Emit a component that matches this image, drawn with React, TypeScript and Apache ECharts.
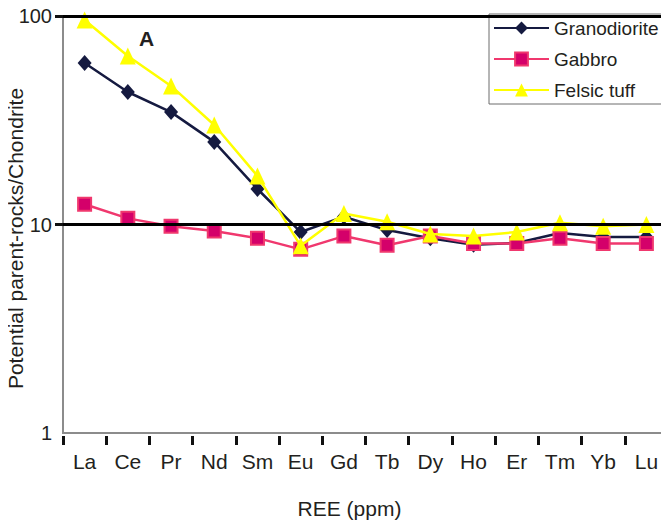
import React, { useEffect, useRef } from "react";
import * as echarts from "echarts";

const categories = ["La", "Ce", "Pr", "Nd", "Sm", "Eu", "Gd", "Tb", "Dy", "Ho", "Er", "Tm", "Yb", "Lu"];
const granodiorite = [59.5, 43.2, 34.6, 24.9, 14.8, 9.2, 10.9, 9.4, 8.6, 8.0, 8.15, 9.1, 8.7, 8.7];
const gabbro = [12.5, 10.7, 9.8, 9.3, 8.6, 7.6, 8.8, 7.95, 8.8, 8.1, 8.1, 8.6, 8.1, 8.1];
const felsicTuff = [95.7, 64.3, 46.2, 30.0, 17.1, 7.9, 11.3, 10.3, 9.0, 8.8, 9.2, 10.2, 9.8, 10.0];
const referenceLines = [10, 100];

const FONT = "Liberation Sans, Arial, sans-serif";

export default function App() {
  const ref = useRef<HTMLDivElement>(null);
  useEffect(() => {
    if (!ref.current) return;
    const chart = echarts.init(ref.current, null, { renderer: "svg" });
    chart.setOption({
      animation: false,
      backgroundColor: "#ffffff",
      textStyle: { fontFamily: FONT, color: "#231f20" },
      grid: {
        left: 63,
        right: 1,
        top: 16,
        bottom: 98,
        show: true,
        outerBoundsMode: "none",
        containLabel: false,
        borderColor: "#8c8c8c",
        borderWidth: 2,
        backgroundColor: "transparent",
      },
      legend: {
        orient: "vertical",
        left: 489,
        top: 14,
        padding: [4, 10, 4, 4],
        itemWidth: 55,
        itemHeight: 16,
        itemGap: 11,
        backgroundColor: "transparent",
        borderColor: "#6d6d6d",
        borderWidth: 1,
        textStyle: { fontFamily: FONT, fontSize: 19, color: "#231f20", lineHeight: 20 },
        data: ["Granodiorite", "Gabbro", "Felsic tuff"],
      },
      xAxis: {
        type: "category",
        data: categories,
        boundaryGap: true,
        offset: 3,
        axisLine: { show: false },
        axisTick: { show: true, length: 9, lineStyle: { color: "#111", width: 3 } },
        axisLabel: { fontFamily: FONT, fontSize: 21, color: "#231f20", margin: 15 },
        name: "REE (ppm)",
        nameLocation: "middle",
        nameGap: 62,
        nameMoveOverlap: false,
        nameTextStyle: { fontFamily: FONT, fontSize: 21, color: "#231f20", padding: [0, 32, 0, 0] },
        splitLine: { show: false },
      },
      yAxis: {
        type: "log",
        logBase: 10,
        min: 1,
        max: 100,
        axisLine: { show: false },
        axisTick: {
          show: true,
          length: 8,
          customValues: referenceLines,
          lineStyle: { color: "#111", width: 3 },
        },
        axisLabel: {
          fontFamily: FONT,
          fontSize: 20,
          color: "#231f20",
          margin: 11,
          formatter: (v: number) => String(Math.round(v)),
        },
        splitLine: { show: false },
        name: "Potential parent-rocks/Chondrite",
        nameLocation: "middle",
        nameGap: 37,
        nameMoveOverlap: false,
        nameTextStyle: { fontFamily: FONT, fontSize: 21, color: "#231f20", padding: [0, 28, 0, 0] },
      },
      graphic: [
        {
          type: "text",
          left: 139,
          top: 28,
          style: { text: "A", font: `bold 21px ${FONT}`, fill: "#231f20" },
        },
      ],
      series: [
        {
          name: "Granodiorite",
          type: "line",
          data: granodiorite,
          symbol: "diamond",
          symbolSize: [14, 16],
          lineStyle: { color: "#151a40", width: 2.5 },
          itemStyle: { color: "#151a40" },
          z: 3,
        },
        {
          name: "Gabbro",
          type: "line",
          data: gabbro,
          symbol: "rect",
          symbolSize: 13,
          lineStyle: { color: "#f0386e", width: 2.5 },
          itemStyle: { color: "#d4006a", borderColor: "#f0386e", borderWidth: 2 },
          z: 4,
        },
        {
          name: "Felsic tuff",
          type: "line",
          data: felsicTuff,
          symbol: "triangle",
          symbolSize: [16, 17],
          lineStyle: { color: "#ffff00", width: 2.5 },
          itemStyle: { color: "#ffff00" },
          z: 5,
          markLine: {
            silent: true,
            symbol: "none",
            z: 10,
            label: { show: false },
            lineStyle: { color: "#000", width: 3, type: "solid" },
            data: referenceLines.map((v) => ({ yAxis: v })),
          },
        },
      ],
    });
    return () => chart.dispose();
  }, []);
  return <div ref={ref} style={{ width: 669, height: 531, margin: -8 }} />;
}
